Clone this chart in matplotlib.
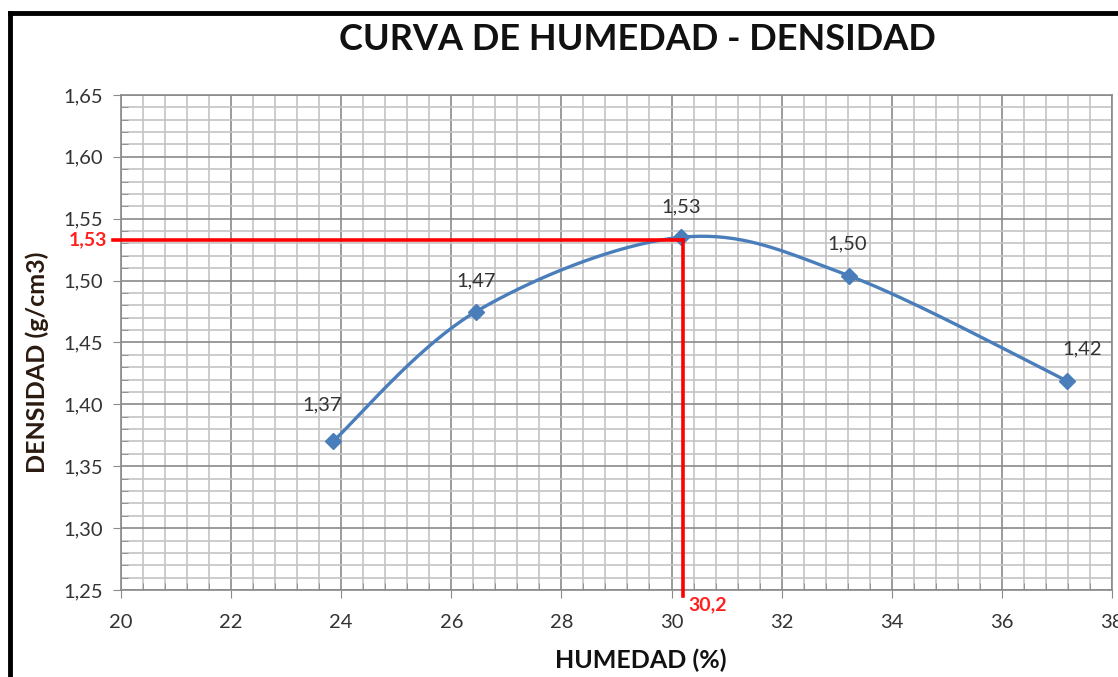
import numpy as np
import matplotlib
matplotlib.use("Agg")
import matplotlib.pyplot as plt
from matplotlib.ticker import MultipleLocator, FuncFormatter
from matplotlib.lines import Line2D

# datos del ensayo
humedad = [23.85, 26.45, 30.17, 33.22, 37.18]
densidad = [1.370, 1.475, 1.535, 1.504, 1.419]
etiquetas = ["1,37", "1,47", "1,53", "1,50", "1,42"]
hum_opt = 30.2
dens_max = 1.533
x_lim = [20, 38]
y_lim = [1.25, 1.65]


def curva_suave(x, y, n=40):
    # bezier tipo excel (catmull-rom)
    x = np.asarray(x, float)
    y = np.asarray(y, float)
    px = np.concatenate([[x[0]], x, [x[-1]]])
    py = np.concatenate([[y[0]], y, [y[-1]]])
    xs, ys = [], []
    t = np.linspace(0, 1, n)
    for i in range(1, len(px) - 2):
        p0 = np.array([px[i], py[i]])
        p3 = np.array([px[i + 1], py[i + 1]])
        p1 = p0 + (np.array([px[i + 1], py[i + 1]]) - np.array([px[i - 1], py[i - 1]])) / 6
        p2 = p3 - (np.array([px[i + 2], py[i + 2]]) - np.array([px[i], py[i]])) / 6
        b = ((1 - t) ** 3)[:, None] * p0 + (3 * (1 - t) ** 2 * t)[:, None] * p1 \
            + (3 * (1 - t) * t ** 2)[:, None] * p2 + (t ** 3)[:, None] * p3
        xs.extend(b[:, 0])
        ys.extend(b[:, 1])
    return xs, ys


plt.rcParams['font.family'] = ['Lato', 'DejaVu Sans']
fig = plt.figure(figsize=(11.18, 6.77), dpi=100)
ax = fig.add_axes([0.1082, 0.1285, 0.8864, 0.7312])

ax.set_xlim(x_lim)
ax.set_ylim(y_lim)
ax.xaxis.set_major_locator(MultipleLocator(2))
ax.xaxis.set_minor_locator(MultipleLocator(0.4))
ax.yaxis.set_major_locator(MultipleLocator(0.05))
ax.yaxis.set_minor_locator(MultipleLocator(0.01))
ax.yaxis.set_major_formatter(FuncFormatter(lambda v, p: f"{v:.2f}".replace(".", ",")))
ax.xaxis.set_major_formatter(FuncFormatter(lambda v, p: f"{v:.0f}"))

ax.grid(which='major', color='#8a8a8a', lw=1.2)
ax.grid(which='minor', color='#c4c4c4', lw=1.2)
ax.set_axisbelow(True)
for s in ax.spines.values():
    s.set_color('#8a8a8a')
    s.set_linewidth(1.2)
ax.tick_params(which='major', direction='out', length=6, color='#8a8a8a',
               labelsize=14.5, labelcolor='#333333', pad=7)
ax.tick_params(axis='x', which='major', pad=11)
ax.tick_params(which='minor', direction='in', length=5, color='#8a8a8a')

xs, ys = curva_suave(humedad, densidad)
ax.plot(xs, ys, color='#4a7ebb', lw=2.4, zorder=4)
ax.plot(humedad, densidad, ls='none', marker='D', ms=8, color='#4a7ebb', zorder=5)

offs = [(-8, 20), (0, 16), (0, 16), (-1.5, 17), (11, 17)]
for x, y, t, o in zip(humedad, densidad, etiquetas, offs):
    ax.annotate(t, (x, y), xytext=o, textcoords='offset points', ha='center',
                va='bottom', fontsize=14.5, color='#333333', zorder=6)

# lineas de humedad optima / densidad maxima
ax.plot([19.85, hum_opt], [dens_max, dens_max], color='#ff0000', lw=2.6,
        clip_on=False, zorder=6)
ax.plot([hum_opt, hum_opt], [dens_max, 1.245], color='#ff0000', lw=2.6,
        clip_on=False, zorder=6)
ax.text(19.75, dens_max, "1,53", color='#ff2020', fontsize=14, fontweight='bold',
        ha='right', va='center')
ax.text(hum_opt + 0.1, 1.245, "30,2", color='#ff2020', fontsize=14, fontweight='bold',
        ha='left', va='top')

ax.set_xlabel("HUMEDAD (%)", fontsize=18, fontweight='bold', color='#111111')
ax.set_ylabel("DENSIDAD (g/cm3)", fontsize=18, fontweight='bold', color='#2a1a10')
ax.xaxis.set_label_coords(0.525, -0.118)
ax.yaxis.set_label_coords(-0.073, 0.46)
fig.text(0.57, 0.942, "CURVA DE HUMEDAD - DENSIDAD", fontsize=26, fontweight='bold',
         ha='center', va='center', color='#111111')

# marco del grafico
fig.add_artist(Line2D([0.009, 1.0], [0.981, 0.981], color='black', lw=3.5))
fig.add_artist(Line2D([0.009, 0.009], [0.0, 0.981], color='black', lw=3.5))

fig.savefig("out.png", dpi=100)
